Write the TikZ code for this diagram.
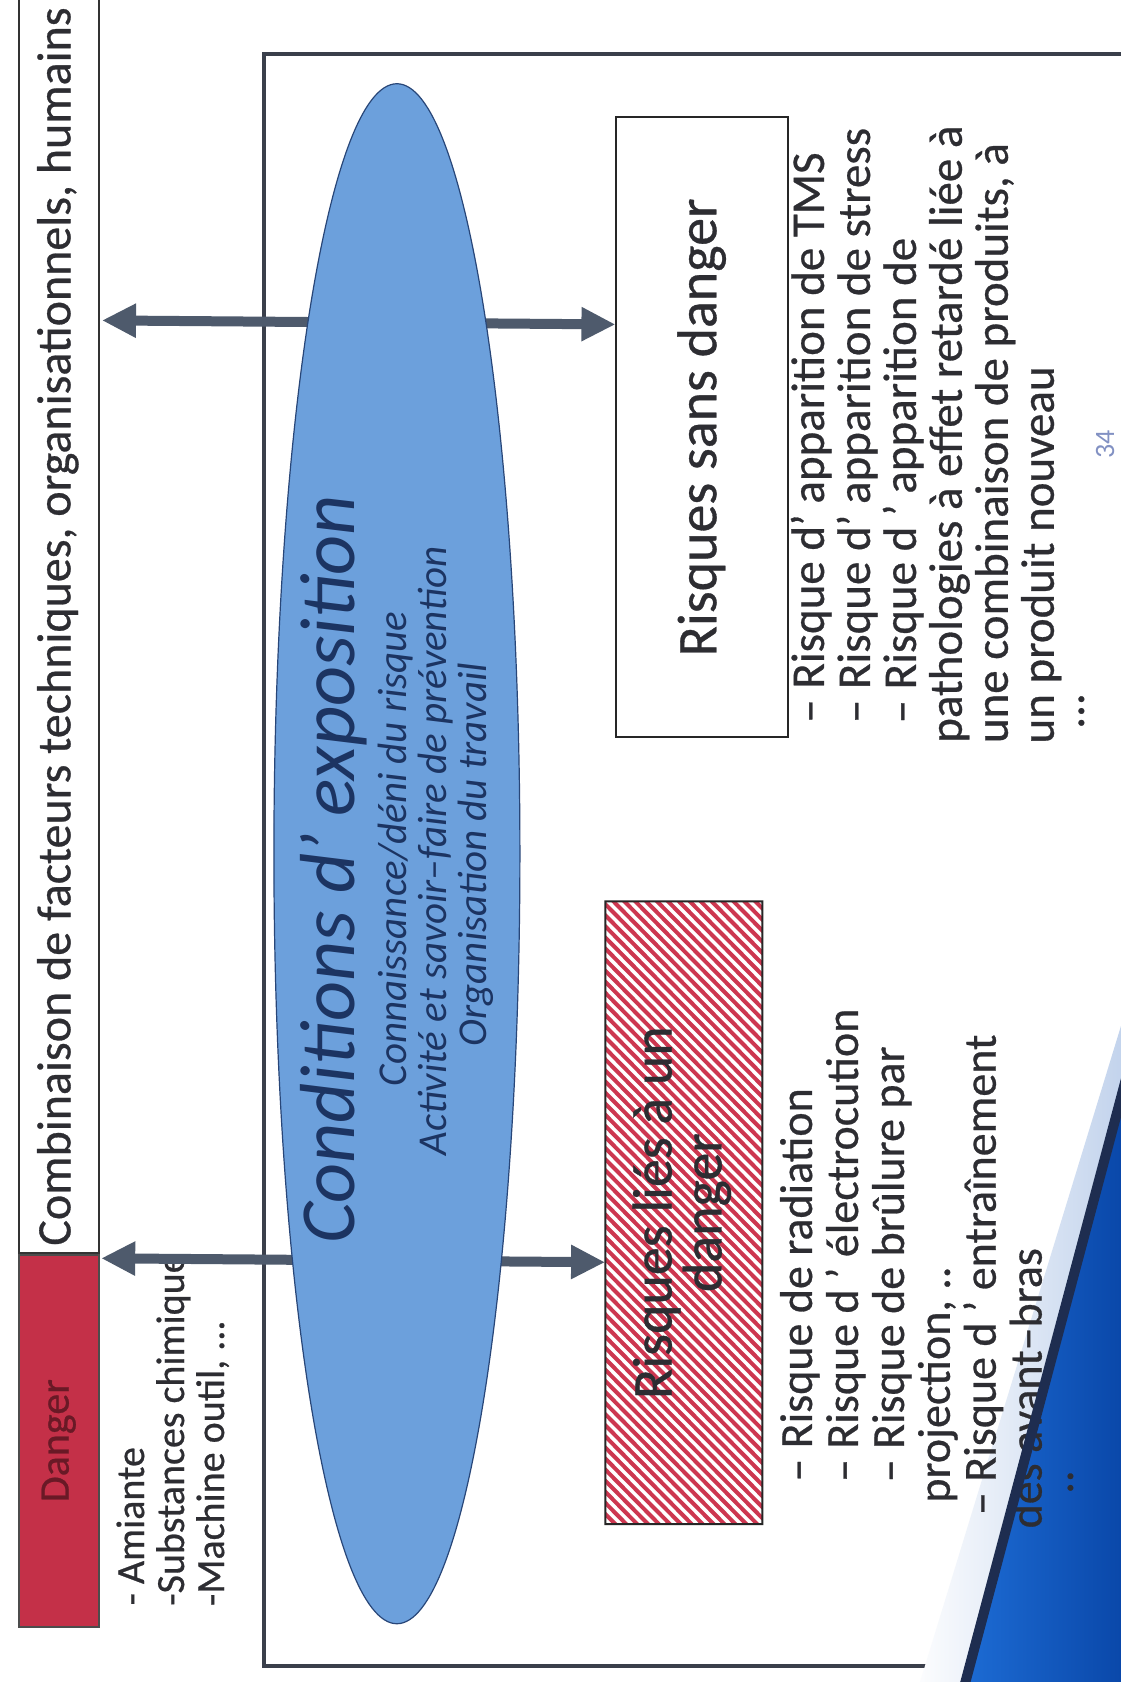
\documentclass[tikz,border=0pt]{standalone}
\usepackage{fontspec}
\setmainfont{Carlito}
\newfontfamily\semib{Carlito}[FakeBold=0.6]
\usetikzlibrary{arrows.meta,shapes.geometric,calc}
\definecolor{framec}{RGB}{58,63,75}
\definecolor{arrowc}{RGB}{78,90,108}
\definecolor{ellfill}{RGB}{108,160,220}
\definecolor{ellline}{RGB}{40,70,120}
\definecolor{elltext}{RGB}{28,52,98}
\definecolor{dred}{RGB}{196,48,72}
\definecolor{dangertext}{RGB}{105,25,38}
\definecolor{hatchc}{RGB}{205,55,80}
\definecolor{txt}{RGB}{45,45,50}
\definecolor{bluetri}{RGB}{30,110,215}
\definecolor{bluetri2}{RGB}{8,68,165}
\definecolor{darkstroke}{RGB}{30,45,80}
\definecolor{lightband}{RGB}{190,208,235}
\definecolor{pagenum}{RGB}{130,145,195}
\newcommand{\myfs}[2]{\fontsize{#1pt}{#2pt}\selectfont}
\begin{document}
\begin{tikzpicture}[x=0.5pt,y=-0.5pt,
  txtrot/.style={rotate=90, inner sep=0pt, text=txt},
  boxline/.style={draw=black!85, line width=1pt},
  bigarrow/.style={draw=arrowc, line width=5pt,
    {Triangle[width=16pt,length=17pt]}-{Triangle[width=16pt,length=17pt]}},
  listl/.style={font=\semib\myfs{23}{23}},
  listr/.style={font=\semib\myfs{23.5}{23}},
]
\useasboundingbox (0,0) rectangle (1120,1682);
\fill[white] (0,0) rectangle (1120,1682);
\begin{scope}[rotate around={-0.45:(560,841)}]
% left strip
\node[draw=black!80, line width=1pt, fill=white, minimum width=40pt,
  minimum height=650pt, anchor=south west, inner sep=0pt] (comb) at (21,1258) {};
\node[draw=black!70, line width=1pt, fill=dred, minimum width=40pt,
  minimum height=186pt, anchor=north west, inner sep=0pt] (danger) at (21,1258) {};
\node[txtrot, anchor=west, font=\semib\myfs{24}{28}] (combt) at (61,1250)
  {Combinaison de facteurs techniques, organisationnels, humains};
\node[txtrot, text=dangertext, font=\semib\myfs{21}{25}] (dangert) at (danger.center) {Danger};
% danger list
\begin{scope}
\clip (104,1266) rectangle (250,1690);
\node[txtrot, anchor=base west, font=\semib\myfs{20}{20}] (d1) at (150,1609) {- Amiante};
\node[txtrot, anchor=base west, font=\semib\myfs{20}{20}] (d2) at (190,1609) {-Substances chimiques};
\node[txtrot, anchor=base west, font=\semib\myfs{20}{20}] (d3) at (230,1609) {-Machine outil, ...};
\end{scope}
% frame
\node[draw=framec, line width=2pt, minimum width=430pt, minimum height=806pt,
  anchor=north west, inner sep=0pt] (frame) at (256,54) {};
% corner decoration (under the text)
\coordinate (b1) at (1140,963);
\coordinate (b2) at (914,1722);
\coordinate (s1) at (1140,1028);
\coordinate (s2) at (961,1722);
\coordinate (c3) at (1140,1722);
\shade[left color=white, right color=lightband]
  (b1) -- (b2) -- (s2) -- (s1) -- cycle;
\shade[left color=bluetri, right color=bluetri2]
  (s1) -- (s2) -- (c3) -- cycle;
% boxes
\node[boxline, fill=white, minimum width=86pt, minimum height=310pt,
  anchor=north west, inner sep=0pt] (sans) at (609,116) {};
\node[fill=white, minimum width=78pt, minimum height=311pt,
  anchor=north west, inner sep=0pt] (lies) at (606,901) {};
\begin{scope}
\clip (lies.south west) -- (lies.south east) -- (lies.north east)
  -- (lies.north west) -- cycle;
\foreach \c in {-925,-914,...,-120}
  \draw[hatchc, line width=2pt] (\c+890,890) -- (\c+1535,1535);
\end{scope}
\draw[black!85, line width=1pt] (lies.south west) -- (lies.south east)
  -- (lies.north east) -- (lies.north west) -- cycle;
\node[txtrot, font=\semib\myfs{28}{32}] (sanst) at (sans.center) {Risques sans danger};
\node[txtrot, align=center, font=\semib\myfs{28}{22.5}] (liest) at ([xshift=-1pt]lies.center)
  {Risques liés à un\\danger};
% arrows
\coordinate (ay1) at (0,324);
\coordinate (ay2) at (0,1262);
\draw[bigarrow] (comb.east |- ay1) -- (sans.west |- ay1);
\draw[bigarrow] (danger.east |- ay2) -- (lies.west |- ay2);
% ellipse
\node[ellipse, draw=ellline, line width=0.6pt, fill=ellfill, minimum width=123pt,
  minimum height=770pt, inner sep=0pt] (cond) at (397,855) {};
\node[txtrot, text=elltext, font=\myfs{39}{40}\itshape, anchor=base] (condt)
  at (355,871) {Conditions d’ exposition};
\node[txtrot, text=elltext, font=\myfs{20.5}{20}\itshape, anchor=base] (c1)
  at (407,850) {Connaissance/déni du risque};
\node[txtrot, text=elltext, font=\myfs{20.5}{20}\itshape, anchor=base] (c2)
  at (447,852) {Activité et savoir–faire de prévention};
\node[txtrot, text=elltext, font=\myfs{20.5}{20}\itshape, anchor=base] (c3)
  at (487,855) {Organisation du travail};
% left risk list
\node[txtrot, listl, anchor=base west] (l1) at (817,1480) {– Risque de radiation};
\node[txtrot, listl, anchor=base west] (l2) at (863,1480) {– Risque d ’ électrocution};
\node[txtrot, listl, anchor=base west] (l3) at (909,1480) {– Risque de brûlure par};
\node[txtrot, listl, anchor=base west] (l4) at (955,1500) {projection, ..};
\node[txtrot, listl, anchor=base west] (l5) at (1001,1512) {– Risque d ’ entraînement};
\node[txtrot, listl, anchor=base west] (l6) at (1047,1525) {des avant–bras};
\node[txtrot, listl, anchor=base west] (l7) at (1078,1490) {..};
% right risk list
\node[txtrot, listr, anchor=base west] (r1) at (823,721) {– Risque d’ apparition de TMS};
\node[txtrot, listr, anchor=base west] (r2) at (869,721) {– Risque d’ apparition de stress};
\node[txtrot, listr, anchor=base west] (r3) at (915,721) {– Risque d ’ apparition de};
\node[txtrot, listr, anchor=base west] (r4) at (961,740) {pathologies à effet retardé liée à};
\node[txtrot, listr, anchor=base west] (r5) at (1007,740) {une combinaison de produits, à};
\node[txtrot, listr, anchor=base west] (r6) at (1053,740) {un produit nouveau};
\node[txtrot, listr, anchor=base west] (r7) at (1083,725) {...};
% page number
\node[rotate=90, inner sep=0pt, text=pagenum, font=\myfs{14}{14}, anchor=base] (pg)
  at (1111,440) {34};
% dark stroke over the text
\draw[darkstroke, line width=5pt] (s1) -- (s2);
\end{scope}
\end{tikzpicture}
\end{document}
